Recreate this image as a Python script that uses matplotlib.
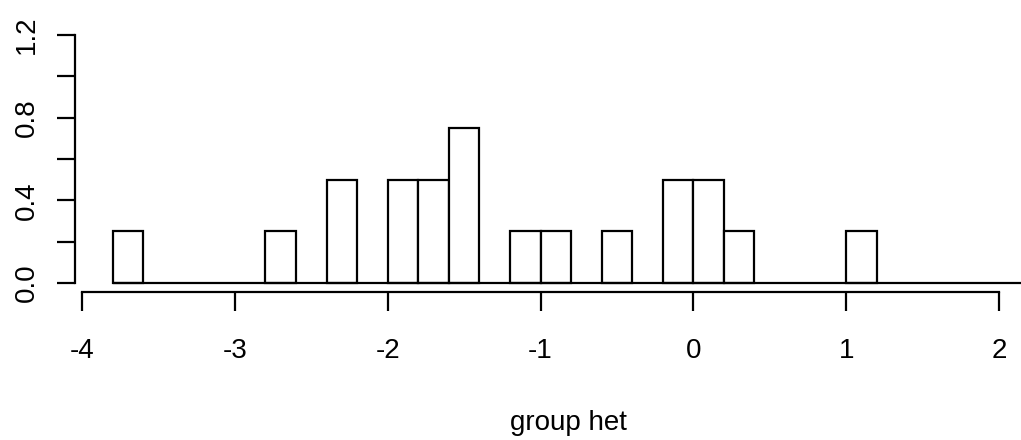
import numpy as np
import matplotlib.pyplot as plt

# histogram bins (width 0.2) and density heights
bin_left = [-3.8, -2.8, -2.4, -2.0, -1.8, -1.6, -1.2, -1.0, -0.6, -0.2, 0.0, 0.2, 1.0]
density = [0.25, 0.25, 0.5, 0.5, 0.5, 0.75, 0.25, 0.25, 0.25, 0.5, 0.5, 0.25, 0.25]
bin_width = 0.2
x_ticks = [-4, -3, -2, -1, 0, 1, 2]
y_ticks = [0.0, 0.2, 0.4, 0.6, 0.8, 1.0, 1.2]
y_labels = ["0.0", "", "0.4", "", "0.8", "", "1.2"]

plt.rcParams['font.family'] = ['Liberation Sans', 'DejaVu Sans']

W, H = 1021, 440
fig = plt.figure(figsize=(W / 100, H / 100), dpi=100)
ax = fig.add_axes([0, 0, 1, 1])

# pixel mapping of the reference
px_x0, px_x2 = 82, 999        # x=-4 and x=2
px_y0, px_y12 = 283, 35       # y=0 and y=1.2
sx = (px_x2 - px_x0) / 6.0
sy = (px_y0 - px_y12) / 1.2
ax.set_xlim(-4 - px_x0 / sx, 2 + (W - px_x2) / sx)
ax.set_ylim(-(H - px_y0) / sy, 1.2 + px_y12 / sy)

# empty bins drawn as a flat line (R draws zero-height rectangles)
ax.plot([-3.8, 2.3], [0, 0], color='black', lw=1.6, solid_capstyle='butt')
ax.bar(bin_left, density, width=bin_width, align='edge',
       facecolor='white', edgecolor='black', linewidth=1.6)

for s in ['top', 'right']:
    ax.spines[s].set_visible(False)
ax.spines['left'].set_position(('data', -4 - (px_x0 - 75) / sx))
ax.spines['left'].set_bounds(0, 1.2)
ax.spines['bottom'].set_position(('data', -(292 - px_y0) / sy))
ax.spines['bottom'].set_bounds(-4, 2)
for s in ['left', 'bottom']:
    ax.spines[s].set_linewidth(1.6)

ax.set_xticks(x_ticks)
ax.set_xticklabels([str(t) for t in x_ticks])
ax.set_yticks(y_ticks)
ax.set_yticklabels(y_labels, rotation=90, va='center')
ax.tick_params(axis='y', length=13, width=1.6, labelsize=20, pad=12)
ax.tick_params(axis='x', length=14, width=1.6, labelsize=20, pad=19)

fig.text(568 / W, 1 - 423 / H, "group het", ha='center', va='center', fontsize=20)

fig.savefig("out.png", dpi=100)
